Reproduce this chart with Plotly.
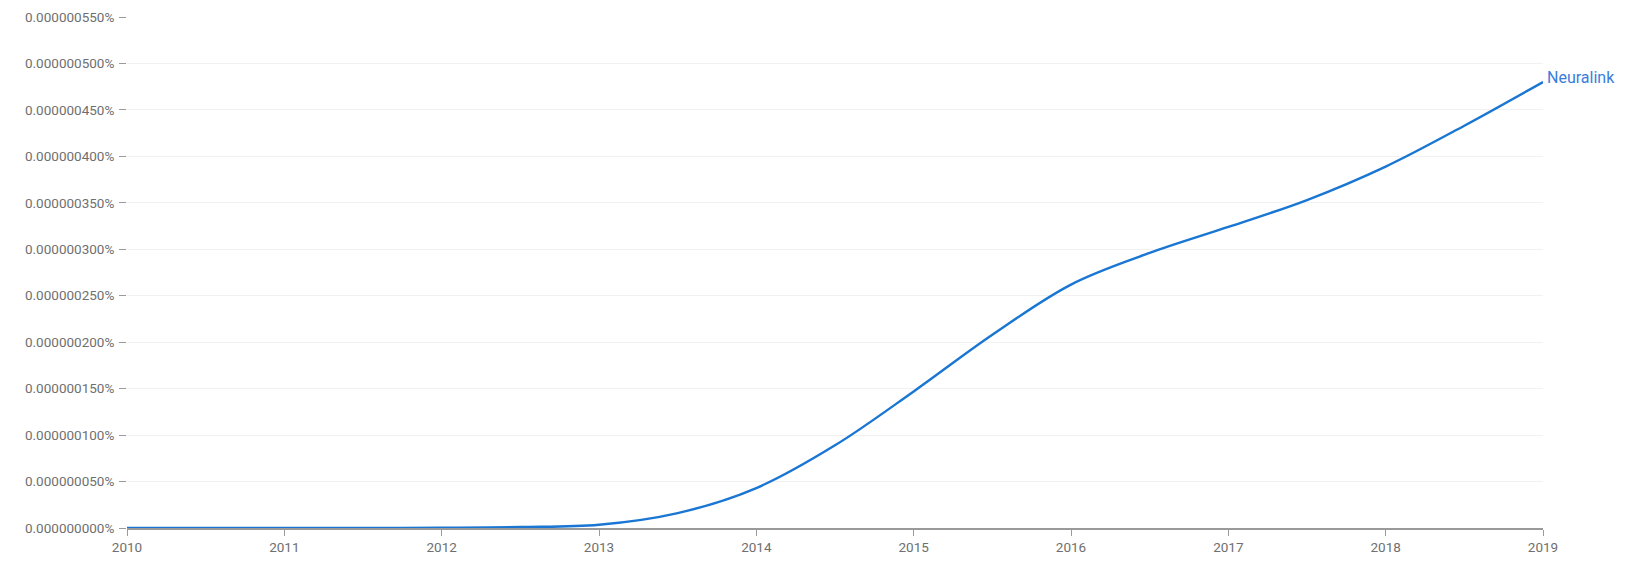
import plotly.graph_objects as go

years = [2010, 2010.5, 2011, 2011.5, 2012, 2012.5, 2013, 2013.5, 2014, 2014.5,
         2015, 2015.5, 2016, 2016.5, 2017, 2017.5, 2018, 2018.5, 2019]
# values in percent (e.g. 4.80e-7 == 0.000000480%)
neuralink = [0.0, 0.0, 0.0, 0.0, 0.3e-9, 1.0e-9, 3.5e-9, 16e-9, 43e-9, 89e-9,
             147e-9, 208e-9, 262e-9, 296e-9, 324e-9, 353e-9, 389e-9, 433e-9, 480e-9]
series_name = "Neuralink"
x_ticks = [2010, 2011, 2012, 2013, 2014, 2015, 2016, 2017, 2018, 2019]
y_ticks = [i * 0.05e-6 for i in range(12)]
y_tick_labels = ["0.%09d%%" % (i * 50) for i in range(12)]

line_color = "#1976d2"
tick_color = "#6f6f6f"

fig = go.Figure()
fig.add_trace(go.Scatter(
    x=years, y=neuralink, mode="lines", name=series_name,
    line=dict(color=line_color, width=2.4, shape="spline", smoothing=1.0),
    hoverinfo="skip", showlegend=False, cliponaxis=False,
))
fig.add_annotation(
    x=years[-1], y=neuralink[-1], text=series_name, showarrow=False,
    xanchor="left", yanchor="middle", xshift=2, yshift=5,
    font=dict(family="Roboto", size=16, color="#3b7ddd"),
)
# page body has an 8px margin, so the figure is offset by (8, 8)
fig.update_layout(
    width=1616, height=549,
    margin=dict(l=119, r=81, t=9, b=29),
    paper_bgcolor="white", plot_bgcolor="white",
    font=dict(family="Roboto", size=13.5, color=tick_color),
)
fig.update_xaxes(
    range=[2010, 2019], tickvals=x_ticks, ticktext=[str(v) for v in x_ticks],
    showgrid=False, zeroline=False, automargin=False,
    showline=True, linecolor="#9a9a9a", linewidth=1.5,
    ticks="outside", ticklen=6, tickwidth=1.2, tickcolor="#9a9a9a",
    tickfont=dict(family="Roboto", size=13.5, color=tick_color),
)
fig.update_yaxes(
    range=[0, 0.55e-6], tickvals=y_ticks, ticktext=y_tick_labels,
    showgrid=True, gridcolor="#f1f1f1", gridwidth=1, zeroline=False,
    showline=False, automargin=False,
    ticks="outside", ticklen=7, tickwidth=1.2, tickcolor="#9a9a9a",
    ticklabelstandoff=2,
    tickfont=dict(family="Roboto", size=13.5, color=tick_color),
)
fig.write_html("out.html")
